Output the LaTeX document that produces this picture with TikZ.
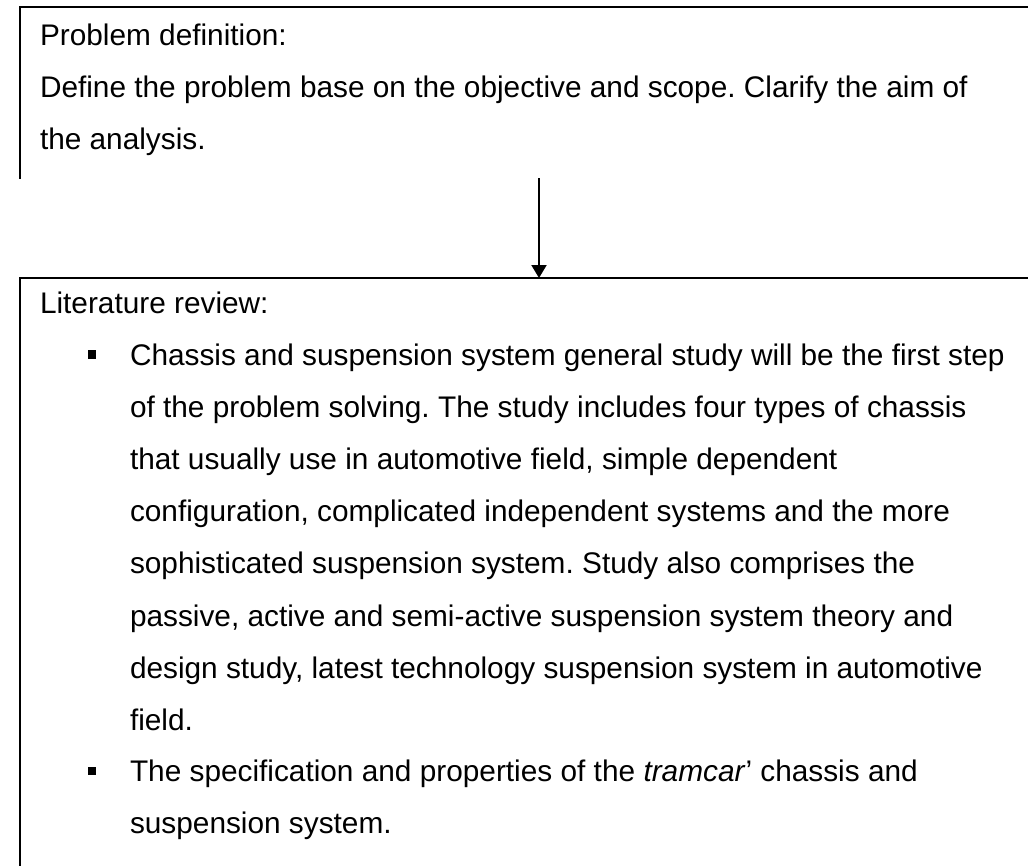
\documentclass[tikz,border=0pt]{standalone}
\usepackage{fontspec}
\setmainfont{Liberation Sans}
\usetikzlibrary{arrows.meta}
\begin{document}
\frenchspacing
\begin{tikzpicture}[x=1pt,y=-1pt,
  frame/.style={line width=2pt,line cap=rect},
  flowarrow/.style={line width=2pt,-{Triangle[length=13pt,width=15pt]}},
  txt/.style={anchor=base west,inner sep=0pt,outer sep=0pt},
  bulletmark/.style={rectangle,fill=black,inner sep=0pt,minimum size=8.5pt}]
  \useasboundingbox (0,0) rectangle (1028,865);
  \newcommand{\bodyfont}{\fontsize{29.8pt}{52.2pt}\selectfont}

  % upper box (open towards the right)
  \coordinate (upTL) at (20,7);
  \coordinate (upBL) at (20,178);
  \coordinate (upR) at (1030,7);
  \coordinate (upOut) at (539,178);
  \draw[frame] (upBL) -- (upTL) -- (upR);

  % lower box (open towards the right and bottom)
  \coordinate (loTL) at (20,278);
  \coordinate (loBL) at (20,870);
  \coordinate (loR) at (1030,278);
  \coordinate (loIn) at (539,278);
  \draw[frame] (loBL) -- (loTL) -- (loR);

  % connector
  \draw[flowarrow] (upOut) -- (loIn);

  % upper box text
  \node[txt] (problem) at (40,45) {\parbox[t]{990pt}{\bodyfont
    Problem definition:\\
    Define the problem base on the objective and scope. Clarify the aim of\\
    the analysis.}};

  % lower box text
  \node[txt] (litreview) at (40,313) {\parbox[t]{990pt}{\bodyfont
    Literature review:}};

  \node[bulletmark] (bulletA) at (92,354.5) {};
  \node[txt] (itemA) at (130,365) {\parbox[t]{900pt}{\bodyfont
    Chassis and suspension system general study will be the first step\\
    of the problem solving. The study includes four types of chassis\\
    that usually use in automotive field, simple dependent\\
    configuration, complicated independent systems and the more\\
    sophisticated suspension system. Study also comprises the\\
    passive, active and semi-active suspension system theory and\\
    design study, latest technology suspension system in automotive\\
    field.}};

  \node[bulletmark] (bulletB) at (92,771) {};
  \node[txt] (itemB) at (130,781.5) {\parbox[t]{900pt}{\bodyfont
    The specification and properties of the \textit{tramcar}’ chassis and\\
    suspension system.}};
\end{tikzpicture}
\end{document}
